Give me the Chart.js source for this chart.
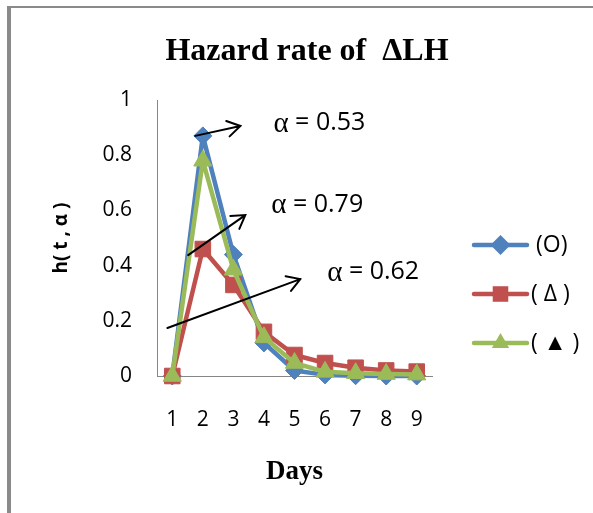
<!DOCTYPE html>
<html>
<head>
<meta charset="utf-8">
<script src="https://cdn.jsdelivr.net/npm/chart.js@4.4.1/dist/chart.umd.min.js"></script>
<style>
  html, body { margin: 0; padding: 0; background: #fff; }
  #wrap { width: 593px; height: 513px; position: relative; }
</style>
</head>
<body>
<div id="wrap"><canvas id="c" width="593" height="513"></canvas></div>
<script>
// Days on the horizontal axis
const days = ['1', '2', '3', '4', '5', '6', '7', '8', '9'];
// Series names shown in the legend
const seriesNames = ['(O)', '( Δ )', '( ▲ )'];
// Hazard rate h(t, α) per day for each series
const hazardO = [0, 0.87, 0.44, 0.12, 0.02, 0.004, 0.001, 0, 0];
const hazardDelta = [0, 0.46, 0.33, 0.16, 0.076, 0.047, 0.03, 0.02, 0.016];
const hazardTri = [0, 0.78, 0.385, 0.14, 0.047, 0.015, 0.01, 0.007, 0.005];
// Vertical axis range and step
const yMin = 0, yMax = 1, yStep = 0.2;
// Shape parameter callouts
const alphaValues = ['0.53', '0.79', '0.62'];

const BLUE = '#4F81BD', RED = '#C0504D', GREEN = '#9BBB59';
const SANS = "'Open Sans', 'Liberation Sans', sans-serif";
const SERIF = "'Liberation Serif', 'DejaVu Serif', serif";

// Callout arrows in (day index, h) coordinates, with the text anchor for each alpha value
const callouts = [
  { from: [0.75, 0.87], to: [2.23, 0.906], text: [3.31, 0.917] },
  { from: [0.52, 0.438], to: [2.39, 0.583], text: [3.24, 0.62] },
  { from: [-0.16, 0.174], to: [4.19, 0.351], text: [5.07, 0.377] }
];

const framePlugin = {
  id: 'frame',
  beforeDraw(chart) {
    const ctx = chart.ctx;
    ctx.save();
    ctx.fillStyle = '#fff';
    ctx.fillRect(0, 0, chart.width, chart.height);
    ctx.fillStyle = '#8a8a8a';
    ctx.fillRect(7, 6, chart.width - 7, 2);
    ctx.fillRect(7, 6, 4, chart.height - 6);
    ctx.restore();
  }
};

const calloutPlugin = {
  id: 'callouts',
  afterDatasetsDraw(chart) {
    const ctx = chart.ctx, xs = chart.scales.x, ys = chart.scales.y;
    ctx.save();
    ctx.strokeStyle = '#000';
    ctx.fillStyle = '#000';
    ctx.lineWidth = 2;
    ctx.lineCap = 'round';
    callouts.forEach((c, i) => {
      const x0 = xs.getPixelForValue(c.from[0]), y0 = ys.getPixelForValue(c.from[1]);
      const x1 = xs.getPixelForValue(c.to[0]), y1 = ys.getPixelForValue(c.to[1]);
      const ang = Math.atan2(y1 - y0, x1 - x0);
      const head = 15, spread = 0.55;
      ctx.beginPath();
      ctx.moveTo(x0, y0);
      ctx.lineTo(x1, y1);
      ctx.moveTo(x1 - head * Math.cos(ang - spread), y1 - head * Math.sin(ang - spread));
      ctx.lineTo(x1, y1);
      ctx.lineTo(x1 - head * Math.cos(ang + spread), y1 - head * Math.sin(ang + spread));
      ctx.stroke();

      const tx = xs.getPixelForValue(c.text[0]), ty = ys.getPixelForValue(c.text[1]);
      ctx.textBaseline = 'middle';
      ctx.textAlign = 'left';
      ctx.font = '29px ' + SERIF;
      ctx.fillText('α', tx, ty + 1);
      const aw = ctx.measureText('α').width;
      ctx.font = '25px ' + SANS;
      ctx.fillText(' = ' + alphaValues[i], tx + aw, ty);
    });
    ctx.restore();
  }
};

function drawMarker(ctx, style, x, y, r) {
  ctx.beginPath();
  if (style === 'rectRot') {
    ctx.moveTo(x, y - r); ctx.lineTo(x + r, y); ctx.lineTo(x, y + r); ctx.lineTo(x - r, y);
  } else if (style === 'rect') {
    const s = r * Math.SQRT1_2;
    ctx.rect(x - s, y - s, 2 * s, 2 * s);
  } else {
    ctx.moveTo(x, y - r);
    ctx.lineTo(x + r * Math.sin(2 * Math.PI / 3), y - r * Math.cos(2 * Math.PI / 3));
    ctx.lineTo(x + r * Math.sin(4 * Math.PI / 3), y - r * Math.cos(4 * Math.PI / 3));
  }
  ctx.closePath();
  ctx.fill();
}

const titleLegendPlugin = {
  id: 'titleLegend',
  afterDraw(chart) {
    const ctx = chart.ctx;
    ctx.save();
    // Chart title
    ctx.fillStyle = '#000';
    ctx.font = 'bold 32px ' + SERIF;
    ctx.textAlign = 'center';
    ctx.textBaseline = 'middle';
    ctx.fillText('Hazard rate of  ΔLH', 307, 52);
    // Legend: line sample with marker, then the series name
    chart.data.datasets.forEach((ds, i) => {
      const y = 245 + i * 49;
      ctx.strokeStyle = ds.borderColor;
      ctx.fillStyle = ds.borderColor;
      ctx.lineWidth = 4.5;
      ctx.lineCap = 'round';
      ctx.beginPath();
      ctx.moveTo(474, y);
      ctx.lineTo(527, y);
      ctx.stroke();
      drawMarker(ctx, ds.pointStyle, 500.5, y, ds.pointStyle === 'rect' ? 11 : 10);
      ctx.fillStyle = '#000';
      ctx.font = '23px ' + SANS;
      ctx.textAlign = 'left';
      ctx.fillText(ds.label, i === 0 ? 536 : 531, y);
    });
    ctx.restore();
  }
};

function series(label, values, color, style, radius, order) {
  return {
    label: label,
    data: values,
    borderColor: color,
    backgroundColor: color,
    borderWidth: 4.5,
    borderJoinStyle: 'round',
    borderCapStyle: 'round',
    pointStyle: style,
    pointRadius: radius,
    pointHoverRadius: radius,
    pointBorderWidth: 1,
    pointBorderColor: color,
    pointBackgroundColor: color,
    tension: 0,
    clip: false,
    order: order
  };
}

new Chart(document.getElementById('c'), {
  type: 'line',
  data: {
    labels: days,
    datasets: [
      series(seriesNames[0], hazardO, BLUE, 'rectRot', 9, 3),
      series(seriesNames[1], hazardDelta, RED, 'rect', 11, 2),
      series(seriesNames[2], hazardTri, GREEN, 'triangle', 10.5, 1)
    ]
  },
  options: {
    responsive: false,
    animation: false,
    devicePixelRatio: 1,
    layout: { padding: { left: 0, top: 100, right: 161, bottom: 0 } },
    plugins: {
      legend: { display: false },
      title: { display: false },
      tooltip: { enabled: false }
    },
    scales: {
      x: {
        offset: true,
        grid: { display: false, drawTicks: false },
        border: { display: true, color: '#868686', width: 1 },
        ticks: {
          color: '#000',
          font: { family: SANS, size: 21 },
          padding: 31,
          maxRotation: 0,
          autoSkip: false
        },
        title: {
          display: true,
          text: 'Days',
          color: '#000',
          font: { family: SERIF, size: 27, weight: 'bold' },
          padding: { top: 0, bottom: 25 }
        },
        afterFit(scale) { scale.height = 137; }
      },
      y: {
        min: yMin,
        max: yMax,
        grid: { display: false, drawTicks: false },
        border: { display: true, color: '#868686', width: 1 },
        ticks: {
          stepSize: yStep,
          color: '#000',
          font: { family: SANS, size: 21 },
          padding: 25,
          callback: (v) => String(Number(v.toFixed(1)))
        },
        title: {
          display: true,
          text: 'h( t , α )',
          color: '#000',
          font: { family: SANS, size: 19, weight: 'bold' },
          padding: { top: 50, bottom: 0 }
        },
        afterFit(scale) { scale.width = 157; }
      }
    }
  },
  plugins: [framePlugin, calloutPlugin, titleLegendPlugin]
});
</script>
</body>
</html>
